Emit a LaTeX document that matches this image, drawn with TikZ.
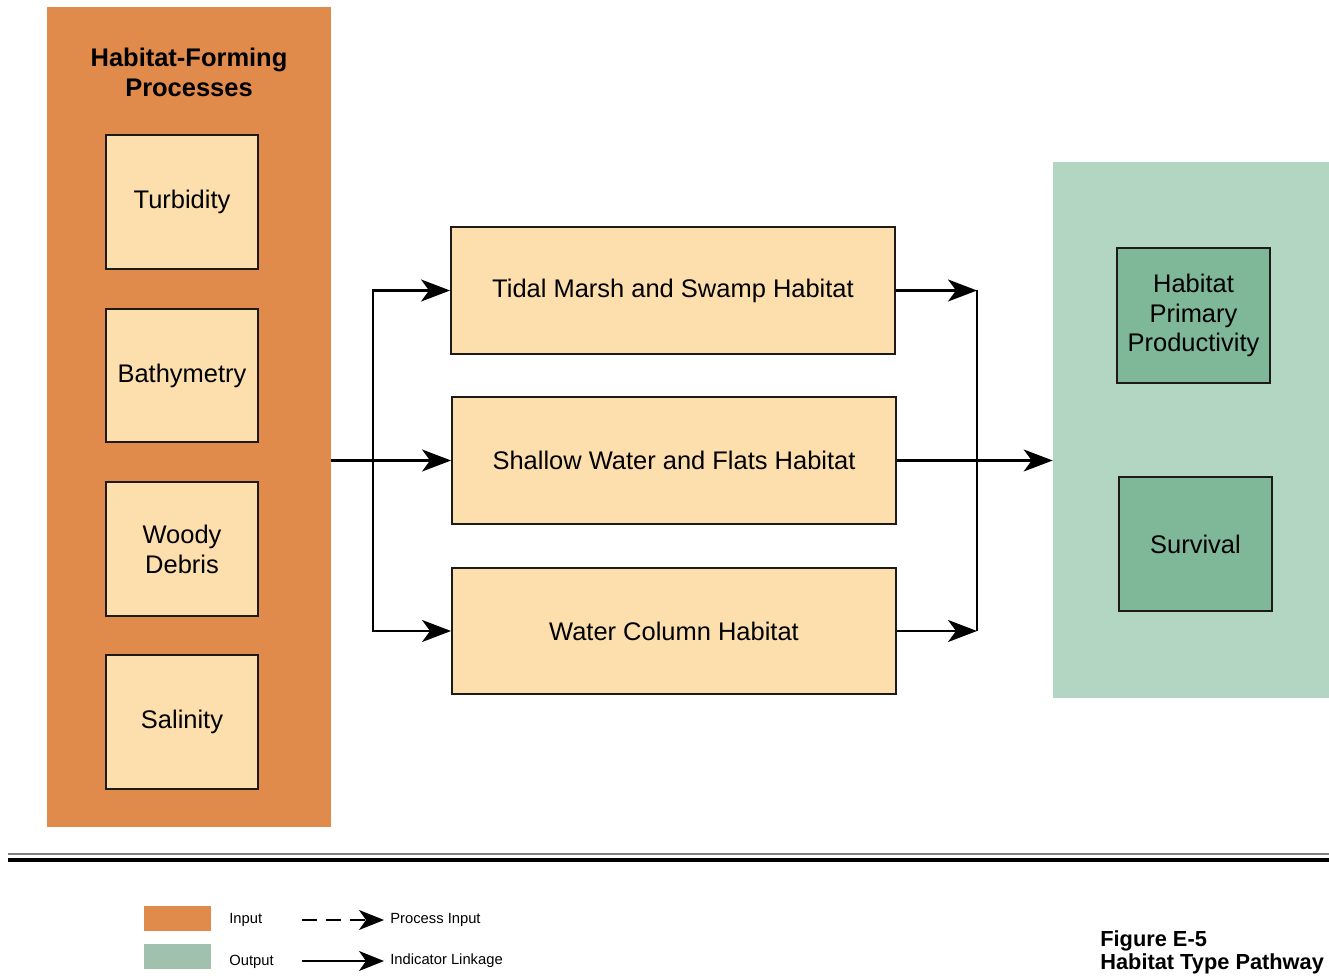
\documentclass[tikz,border=0pt]{standalone}
\usepackage{fontspec}
\setmainfont{Liberation Sans}
\usetikzlibrary{arrows.meta,positioning,calc}
\definecolor{hfOrange}{HTML}{E08A4C}
\definecolor{hfPale}{HTML}{FDDFAE}
\definecolor{hfGreen}{HTML}{B3D6C3}
\definecolor{hfDark}{HTML}{7FB898}
\definecolor{hfInk}{HTML}{1E1A17}
\tikzset{
  inputPanel/.style={fill=hfOrange, draw=none, inner sep=0pt},
  outputPanel/.style={fill=hfGreen, draw=none, inner sep=0pt},
  procBox/.style={draw=hfInk, line width=0.04cm, fill=hfPale, align=center, inner sep=0pt,
    minimum width=3.04cm, minimum height=2.68cm, font=\fontsize{14.5}{17}\selectfont},
  habBox/.style={draw=hfInk, line width=0.04cm, fill=hfPale, align=center, inner sep=0pt,
    minimum width=8.88cm, minimum height=2.54cm, font=\fontsize{14.5}{17}\selectfont},
  indBox/.style={draw=hfInk, line width=0.04cm, fill=hfDark, align=center, inner sep=0pt,
    minimum width=3.06cm, minimum height=2.7cm, font=\fontsize{14.5}{17}\selectfont},
  linkArrow/.style={-{Stealth[length=0.58cm, width=0.44cm, inset=0.16cm]}, line width=0.045cm, draw=black},
  legendText/.style={anchor=west, inner sep=0pt, font=\fontsize{8.4}{10}\selectfont},
  swatch/.style={draw=none, inner sep=0pt, minimum width=1.34cm, minimum height=0.5cm}
}
\begin{document}
\begin{tikzpicture}[x=0.02cm, y=-0.02cm]
  \useasboundingbox (0,0) rectangle (1329,976);
  \clip (0,0) rectangle (1329,976);

  % panels
  \node[inputPanel, minimum width=5.68cm, minimum height=16.4cm] (procs) at (189,417) {};
  \node[outputPanel, minimum width=5.8cm, minimum height=10.72cm] (outs) at (1198,430) {};
  \node[font=\bfseries\fontsize{14.5}{17}\selectfont, align=center] (procTitle) at (189,72) {Habitat-Forming\\Processes};

  % habitat-forming processes
  \node[procBox] (turb) at (182,202) {Turbidity};
  \node[procBox] (bathy) at (182,375.5) {Bathymetry};
  \node[procBox] (woody) at (182,549) {Woody\\Debris};
  \node[procBox] (salin) at (182,722) {Salinity};

  % habitat types
  \node[habBox] (tidal) at (673,290.5) {Tidal Marsh and Swamp Habitat};
  \node[habBox] (shallow) at (674,460.5) {Shallow Water and Flats Habitat};
  \node[habBox] (wcol) at (674,631) {Water Column Habitat};

  % indicators
  \node[indBox] (prod) at (1193.5,315.5) {Habitat\\Primary\\Productivity};
  \node[indBox] (surv) at (1195.5,544) {Survival};

  % linkages
  \coordinate (inSplit) at (373,460.5);
  \coordinate (outJoin) at (977,460.5);
  \draw[linkArrow] (procs.east |- shallow.west) -- (shallow.west);
  \draw[linkArrow] (inSplit) |- (tidal.west);
  \draw[linkArrow] (inSplit) |- (wcol.west);
  \draw[linkArrow] (tidal.east) -- (tidal.east -| outJoin);
  \draw[linkArrow] (wcol.east) -- (wcol.east -| outJoin);
  \draw[line width=0.045cm] (tidal.east -| outJoin) -- (wcol.east -| outJoin);
  \draw[linkArrow] (shallow.east) -- (shallow.east -| outs.west);

  % rule
  \draw[gray, line width=0.03cm] (8,854) -- (1340,854);
  \draw[black, line width=0.08cm] (8,860) -- (1340,860);

  % legend
  \node[swatch, fill=hfOrange] (keyIn) at (177.5,918.5) {};
  \node[swatch, fill=hfGreen!90!black] (keyOut) at (177.5,956) {};
  \node[legendText] (keyInText) at (229,920) {Input};
  \node[legendText] (keyOutText) at (229,962) {Output};
  \coordinate (dashFrom) at (302,920);
  \coordinate (dashTo) at (384,920);
  \coordinate (solidFrom) at (302,961);
  \coordinate (solidTo) at (384,961);
  \draw[-{Stealth[length=0.5cm, width=0.4cm, inset=0.14cm]}, line width=0.035cm, dash pattern=on 0.3cm off 0.18cm] (dashFrom) -- (dashTo);
  \draw[-{Stealth[length=0.5cm, width=0.4cm, inset=0.14cm]}, line width=0.035cm] (solidFrom) -- (solidTo);
  \node[legendText] (keyDash) at (390,920) {Process Input};
  \node[legendText] (keySolid) at (390,961) {Indicator Linkage};

  % caption
  \node[anchor=north west, inner sep=0pt, align=left, font=\bfseries\fontsize{12.4}{13.2}\selectfont] (figCap) at (1100,930) {Figure E-5\\Habitat Type Pathway};
\end{tikzpicture}
\end{document}
